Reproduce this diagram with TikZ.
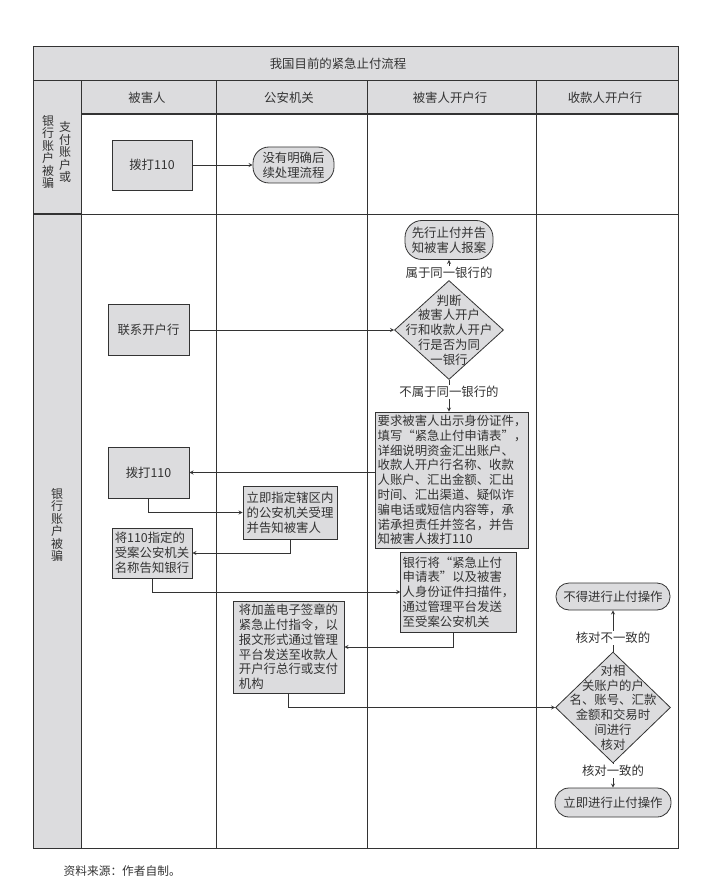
\documentclass[tikz,border=0pt]{standalone}
\usepackage{fontspec}
\setmainfont{Noto Sans CJK SC}
\usetikzlibrary{shapes.geometric}
\definecolor{cellgray}{HTML}{DCDCDE}
\definecolor{ink}{HTML}{333333}
\begin{document}
\begin{tikzpicture}[>=stealth, x=1pt, y=-1pt, color=ink, line width=0.8pt]
\tikzstyle{every node}=[font=\fontsize{12.4}{14.8}\selectfont, text=ink]
\tikzstyle{cell}=[draw=ink, fill=cellgray, line width=1pt]
\tikzstyle{box}=[rectangle, draw=ink, fill=cellgray, inner sep=2pt, align=left]
\tikzstyle{term}=[rectangle, draw=ink, fill=cellgray, inner sep=2pt, align=center]
\tikzstyle{diam}=[diamond, draw=ink, fill=cellgray, inner sep=0pt]
\tikzstyle{lab}=[fill=white, inner sep=1pt]
\tikzstyle{vtext}=[align=center, font=\fontsize{12}{12.5}\selectfont]
\useasboundingbox (0,0) rectangle (718,885);
%
\path[cell] (33,47) rectangle (678,81);
\path[cell] (81,81) rectangle (678,114);
\path[cell] (33,81) rectangle (81,214);
\path[cell] (33,214) rectangle (81,848);
\draw[line width=1pt] (33,47) rectangle (678,848);
\draw (81,114) -- (678,114);
\draw (33,214) -- (678,214);
\draw (81,81) -- (81,848);
\draw (216,81) -- (216,848);
\draw (367,81) -- (367,848);
\draw (536,81) -- (536,848);
%
\node (t0) at (338,64) {我国目前的紧急止付流程};
\node (h1) at (147,97.5) {被害人};
\node (h2) at (289,97.5) {公安机关};
\node (h3) at (450,97.5) {被害人开户行};
\node (h4) at (605,97.5) {收款人开户行};
\node[vtext] (g0) at (48,152) {银\\行\\账\\户\\被\\骗};
\node[vtext] (g1) at (65,152) {支\\付\\账\\户\\或};
\node[vtext] (g2) at (57,525) {银\\行\\账\\户\\被\\骗};
%
\node[box, align=center, minimum width=80, minimum height=50] (a0) at (152,165) {拨打110};
\node[term, rounded corners=16pt, minimum width=81, minimum height=36] (p0) at (293.5,165) {没有明确后\\续处理流程};
\draw[->] (a0) -- (p0);
%
\node[term, rounded corners=17pt, minimum width=88, minimum height=39] (b0) at (449,240) {先行止付并告\\知被害人报案};
\node[diam, minimum width=109, minimum height=99,
  label={[align=center]center:{判断\\被害人开户\\行和收款人开户\\行是否为同\\一银行}}] (b1) at (449,330) {};
\node[box, minimum width=152, minimum height=136] (b2) at (452,480) {要求被害人出示身份证件，\\填写“紧急止付申请表”，\\详细说明资金汇出账户、\\收款人开户行名称、收款\\人账户、汇出金额、汇出\\时间、汇出渠道、疑似诈\\骗电话或短信内容等，承\\诺承担责任并签名，并告\\知被害人拨打110};
\node[box, minimum width=113, minimum height=80] (b3) at (458.5,592) {银行将“紧急止付\\申请表”以及被害\\人身份证件扫描件，\\通过管理平台发送\\至受案公安机关};
\draw[->] (b1.north) -- node[lab, pos=0.36] (l1) {属于同一银行的} (b0.south);
\draw[->] (b1.south) -- node[lab, pos=0.375] (l2) {不属于同一银行的} (b1.south |- b2.north);
%
\node[box, align=center, minimum width=81, minimum height=51] (a1) at (148.5,330) {联系开户行};
\node[box, align=center, minimum width=81, minimum height=51] (a2) at (148.5,472.5) {拨打110};
\node[box, minimum width=80, minimum height=50] (a3) at (152,553) {将110指定的\\受案公安机关\\名称告知银行};
\node[box, minimum width=94, minimum height=53] (p1) at (290,512.5) {立即指定辖区内\\的公安机关受理\\并告知被害人};
\node[box, minimum width=111, minimum height=92] (p2) at (288.5,647) {将加盖电子签章的\\紧急止付指令，以\\报文形式通过管理\\平台发送至收款人\\开户行总行或支付\\机构};
\draw[->] (a1) -- (b1);
\draw[->] (b2.west |- a2) -- (a2.east);
\draw[->] (a2.south) |- (p1.west);
\draw[->] (p1.south) |- (a3.east);
\draw[->] (a3.south) |- (b3.west);
\draw[->] ([xshift=-5]b3.south) |- (p2.east);
%
\node[term, rounded corners=13pt, minimum width=114, minimum height=27] (c0) at (613,596.5) {不得进行止付操作};
\node[diam, minimum width=115, minimum height=111,
  label={[align=center]center:{对相\\关账户的户\\名、账号、汇款\\金额和交易时\\间进行\\核对}}] (c1) at (613,707.5) {};
\node[term, rounded corners=14pt, minimum width=116, minimum height=29] (c2) at (613,802.5) {立即进行止付操作};
\draw[->] (p2.south) |- (c1.west);
\draw[->] (c1.north) -- node[lab, pos=0.33] (l3) {核对不一致的} (c0.south);
\draw[->] (c1.south) -- node[lab, pos=0.32] (l4) {核对一致的} (c2.north);
%
\node[anchor=west, font=\fontsize{11.7}{14}\selectfont] (f0) at (60,871) {资料来源：作者自制。};
\end{tikzpicture}
\end{document}
